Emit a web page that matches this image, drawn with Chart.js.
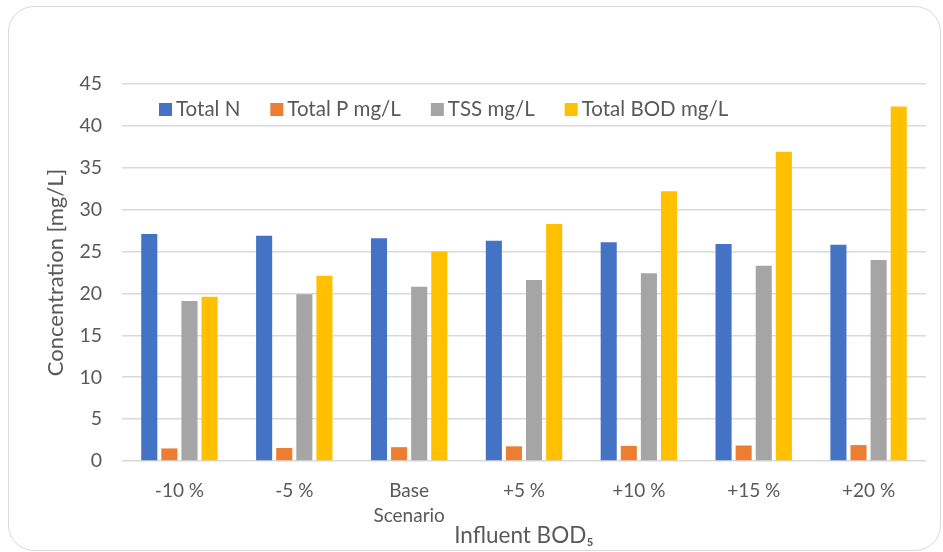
<!DOCTYPE html>
<html>
<head>
<meta charset="utf-8">
<script src="https://cdn.jsdelivr.net/npm/chart.js@4/dist/chart.umd.min.js"></script>
<style>
  body { margin: 0; background: #fff; }
  #wrap { position: relative; width: 943px; height: 552px; }
  #frame { position: absolute; left: 8px; top: 6px; width: 931px; height: 543px;
           border: 1.5px solid #d9d9d9; border-radius: 26px; }
  canvas { position: absolute; left: 0; top: 0; }
</style>
</head>
<body>
<div id="wrap">
  <div id="frame"></div>
  <canvas id="myChart" width="943" height="552"></canvas>
</div>
<script>
let categories = [['-10 %'], ['-5 %'], ['Base', 'Scenario'], ['+5 %'], ['+10 %'], ['+15 %'], ['+20 %']];
let totalN   = [27.1, 26.9, 26.6, 26.3, 26.1, 25.9, 25.8];
let totalP   = [1.5, 1.55, 1.65, 1.75, 1.8, 1.85, 1.9];
let tss      = [19.1, 19.9, 20.8, 21.6, 22.4, 23.3, 24.0];
let totalBOD = [19.6, 22.1, 25.0, 28.3, 32.2, 36.9, 42.3];
let yTicks   = [0, 5, 10, 15, 20, 25, 30, 35, 40, 45];

const FONT = 'Lato';
const TEXT = '#595959';
const GRID = '#d9d9d9';

// legend drawn inside the plot, between the 45 and 40 gridlines
const insideLegend = {
    id: 'insideLegend',
    afterDraw(chart) {
        const ctx = chart.ctx;
        let x = chart.chartArea.left + 37;
        const y = 109;
        ctx.save();
        ctx.font = '20.5px ' + FONT;
        ctx.textBaseline = 'middle';
        ctx.textAlign = 'left';
        chart.data.datasets.forEach(ds => {
            ctx.fillStyle = ds.backgroundColor;
            ctx.fillRect(x, y - 6, 13, 13);
            ctx.fillStyle = TEXT;
            ctx.fillText(ds.label, x + 17, y);
            x += 17 + ctx.measureText(ds.label).width + 30;
        });
        ctx.restore();
    }
};

let myChart = document.getElementById('myChart').getContext('2d');

let concChart = new Chart(myChart, {
    type: 'bar',
    data: {
        labels: categories,
        datasets: [
            { label: 'Total N', data: totalN, backgroundColor: '#4472c4' },
            { label: 'Total P mg/L', data: totalP, backgroundColor: '#ed7d31' },
            { label: 'TSS mg/L', data: tss, backgroundColor: '#a5a5a5' },
            { label: 'Total BOD mg/L', data: totalBOD, backgroundColor: '#ffc000' }
        ]
    },
    options: {
        responsive: false,
        animation: false,
        layout: { padding: { top: 84, right: 17, bottom: 0, left: 0 } },
        datasets: { bar: { categoryPercentage: 0.7, barPercentage: 0.8 } },
        plugins: {
            legend: { display: false },
            tooltip: { enabled: false }
        },
        scales: {
            x: {
                grid: { display: false, drawTicks: false },
                border: { display: false },
                ticks: { color: TEXT, font: { family: FONT, size: 19, lineHeight: 1.32 }, padding: 17, maxRotation: 0 },
                title: { display: true, text: 'Influent BOD₅', color: TEXT,
                         font: { family: FONT, size: 22.5 }, padding: { top: 0, bottom: 3 } },
                afterFit(scale) { scale.height = 91; }
            },
            y: {
                min: 0, max: 45,
                afterBuildTicks(scale) { scale.ticks = yTicks.map(v => ({ value: v })); },
                grid: { color: GRID, lineWidth: 1.5, drawTicks: false },
                border: { display: false },
                ticks: { color: TEXT, font: { family: FONT, size: 19.5 }, padding: 20 },
                title: { display: true, text: 'Concentration [mg/L]', color: TEXT,
                         font: { family: FONT, size: 22 }, padding: { top: 43, bottom: 0 } },
                afterFit(scale) { scale.width = 122; }
            }
        }
    },
    plugins: [insideLegend]
});
</script>
</body>
</html>
